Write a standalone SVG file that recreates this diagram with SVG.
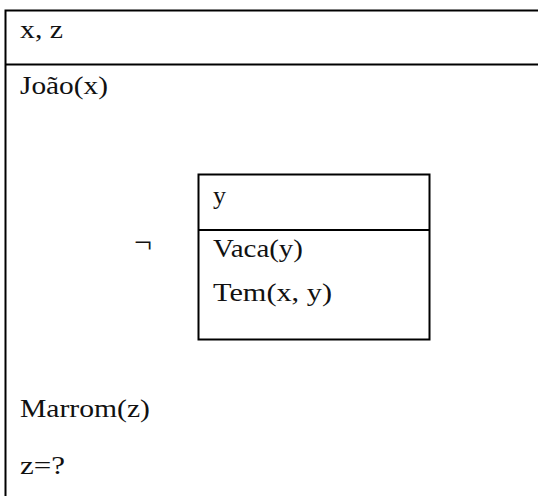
<svg xmlns="http://www.w3.org/2000/svg" width="538" height="496" viewBox="0 0 538 496">
<style>
.t{font-family:"Liberation Serif","Times New Roman",serif;font-size:26px;fill:#111}
.b{fill:none;stroke:#000;stroke-width:2}
</style>
<rect width="538" height="496" fill="#fff"/>
<g id="outer">
<rect class="b" x="5.5" y="10.5" width="560" height="520"/>
<line class="b" x1="5.5" y1="64.5" x2="560" y2="64.5"/>
<text class="t" x="20" y="38" textLength="43" lengthAdjust="spacingAndGlyphs">x, z</text>
<text class="t" x="20" y="94" textLength="88" lengthAdjust="spacingAndGlyphs">João(x)</text>
<text class="t" x="20" y="417" textLength="130" lengthAdjust="spacingAndGlyphs">Marrom(z)</text>
<text class="t" x="20" y="474" textLength="45" lengthAdjust="spacingAndGlyphs">z=?</text>
</g>
<g id="negation">
<text class="t" x="134" y="253" style="font-size:31px" textLength="18" lengthAdjust="spacingAndGlyphs">¬</text>
</g>
<g id="inner">
<rect class="b" x="198.5" y="174.5" width="231" height="165"/>
<line class="b" x1="198.5" y1="230" x2="429.5" y2="230"/>
<text class="t" x="213" y="204">y</text>
<text class="t" x="213" y="257" textLength="90" lengthAdjust="spacingAndGlyphs">Vaca(y)</text>
<text class="t" x="213" y="301" textLength="119" lengthAdjust="spacingAndGlyphs">Tem(x, y)</text>
</g>
<g id="connectors"/>
</svg>
